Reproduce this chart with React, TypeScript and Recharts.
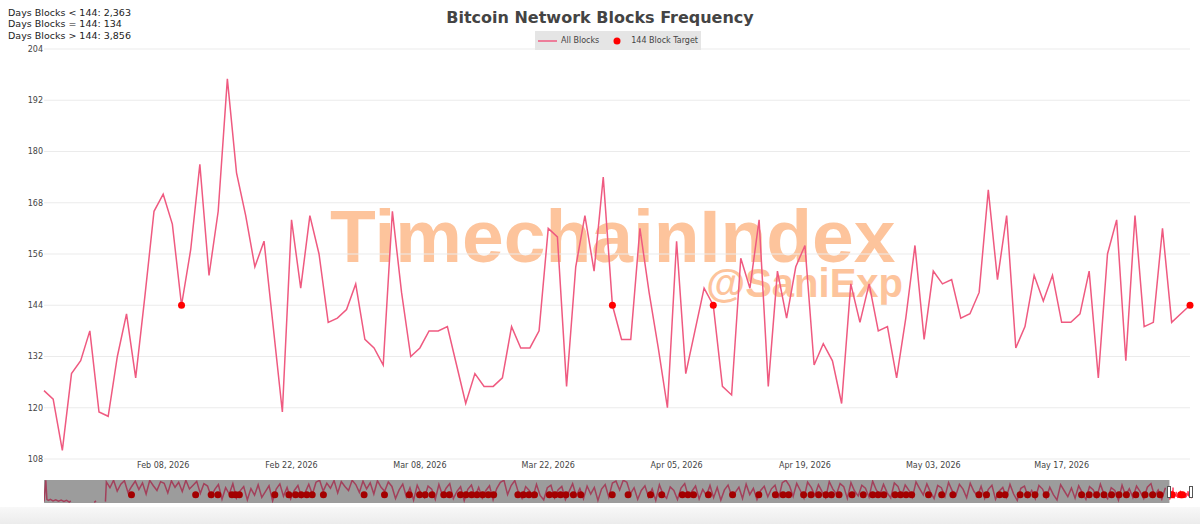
import {
  LineChart,
  ComposedChart,
  Line,
  Scatter,
  XAxis,
  YAxis,
  CartesianGrid,
  ReferenceArea,
} from 'recharts'

// ---- main window (daily block counts) ----
const START_DATE = '2026-01-26'
const TARGET = 144

const blocksPerDay = [
  124, 122, 110, 128, 131, 138, 119, 118, 132, 142,
  127, 146, 166, 170, 163, 144, 157, 177, 151, 166,
  197, 175, 165, 153, 159, 139, 119, 164, 148, 165,
  156, 140, 141, 143, 149, 136, 134, 130, 166, 147,
  132, 134, 138, 138, 139, 130, 121, 128, 125, 125,
  127, 139, 134, 134, 138, 162, 160, 125, 153, 165,
  152, 174, 144, 136, 136, 162, 147, 134, 120, 159,
  128, 138, 148, 144, 125, 123, 155, 148, 164, 125,
  152, 141, 153, 158, 130, 135, 131, 121, 149, 140,
  149, 138, 139, 127, 141, 158, 136, 152, 149, 150,
  141, 142, 147, 171, 150, 165, 134, 139, 151, 145,
  151, 140, 140, 142, 152, 127, 156, 164, 131, 165,
  139, 140, 162, 140, 142, 144,
]

const yTicks = [108, 120, 132, 144, 156, 168, 180, 192, 204]
const xTickDates = [
  '2026-02-08', '2026-02-22', '2026-03-08', '2026-03-22',
  '2026-04-05', '2026-04-19', '2026-05-03', '2026-05-17',
]

const statLabels = [
  'Days Blocks < 144: 2,363',
  'Days Blocks = 144: 134',
  'Days Blocks > 144: 3,856',
]

// ---- range slider overview (rough read of the tiny strip) ----
const TOTAL_DAYS = 6353
const earlyDays = [0, 10, 16, 25, 35, 50, 65, 80, 95, 110, 125, 140, 148]
const earlyBlocks = [95, 250, 110, 104, 112, 100, 108, 98, 106, 96, 104, 92, 100]
const blipDays = [278, 288]
const blipBlocks = [90, 100]
const HIST_START = 345
const HIST_STEP = 20
const historyBlocks = [
  // 2nd..3rd year, wide swings
  238, 196, 250, 172, 221, 247, 160, 205, 244, 183, 231, 150, 249, 210, 176, 240, 228, 158, 246, 199, 235, 168, 250, 187, 214, 242, 155, 226,
  208, 131, 184, 219, 112, 196, 150, 225, 120, 173, 204, 108, 190, 142, 217, 126, 168, 210, 100, 186, 224, 134, 198, 115, 176, 212, 128, 160, 221,
  148, 236, 250, 171, 229, 192, 248, 158, 240, 205, 176, 250, 219, 162, 244, 188, 232, 150, 247, 199, 170, 238,
  205, 118, 180, 222, 130, 196, 106, 214, 158, 124, 208, 186, 112, 219, 140, 192, 226, 117, 170, 203, 102, 184, 215, 133, 198, 121, 176, 210, 108, 190,
  235, 250, 146, 212, 248,
  162, 118, 204, 176, 126, 220, 140, 108, 196, 214, 122, 182, 205, 110, 168, 225, 136, 190, 116, 208, 150, 198, 104, 186, 219, 128, 230,
  244, 180, 250, 236, 152,
  196, 112, 176, 210, 128, 188, 104, 218, 150, 120, 202, 176, 110, 194, 226, 132, 170, 208, 115, 184, 140, 212, 124, 198, 106, 180, 215, 136, 162, 200, 118, 222, 146, 192, 110, 176, 206, 130, 188, 214, 120, 232, 250,
  210, 132, 228, 176, 120, 236, 198, 140, 218, 168, 124, 240, 186, 150, 226, 204, 118, 232, 172, 136, 214, 192, 128, 244, 180, 146, 220, 160, 122, 230, 206, 134, 216, 178, 126, 238, 190, 144, 224, 164, 118, 212, 196, 132, 234, 174, 140, 220, 186, 124, 228, 170, 136,
  206, 118, 184, 214, 112, 170, 198, 126, 220, 150, 104, 192, 208, 130, 176, 116, 212, 186, 122, 200, 146, 108, 218, 174, 132, 194, 120, 210, 160, 112, 204, 182, 128, 222, 150, 116, 196, 176, 106, 214, 140, 188, 124, 208, 168, 118, 200, 226, 134, 180, 114, 196,
]
const historyTargetDays = [
  484, 839, 925, 962, 1040, 1060, 1081, 1277, 1355, 1392, 1423, 1454, 1484, 1546,
  1771, 1884, 2021, 2078, 2109, 2147, 2212, 2243, 2304, 2335, 2366, 2396, 2427,
  2458, 2488, 2622, 2652, 2683, 2714, 2796, 2827, 2858, 2888, 2929, 2970, 3144,
  3232, 3356, 3418, 3532, 3563, 3594, 3676, 3810, 3955, 4047, 4089, 4120, 4203,
  4244, 4286, 4326, 4357, 4399, 4471, 4533, 4585, 4615, 4647, 4709, 4739, 4770,
  4801, 4894, 4967, 5029, 5173, 5215, 5287, 5318, 5401, 5442, 5483, 5545, 5741,
  5783, 5824, 5865, 5907, 5948, 5989, 6041, 6092, 6134, 6175,
]

const FONT = '"DejaVu Sans", Verdana, sans-serif'
const LINE_COLOR = '#ef5a80'
const DOT_COLOR = '#ff0000'
const MONTHS = ['Jan', 'Feb', 'Mar', 'Apr', 'May', 'Jun', 'Jul', 'Aug', 'Sep', 'Oct', 'Nov', 'Dec']
const DAY_MS = 86400000

const startMs = Date.parse(START_DATE + 'T00:00:00Z')
const mainData = blocksPerDay.map((v, i) => ({
  t: startMs + i * DAY_MS,
  blocks: v,
  target: v === TARGET ? v : null,
}))
const xTicks = xTickDates.map(d => Date.parse(d + 'T00:00:00Z'))

const fmtDate = (t: number) => {
  const d = new Date(t)
  return `${MONTHS[d.getUTCMonth()]} ${String(d.getUTCDate()).padStart(2, '0')}, ${d.getUTCFullYear()}`
}

const recentStart = TOTAL_DAYS - blocksPerDay.length
const histLine = [
  ...earlyDays.map((d, i) => ({ day: d, v: earlyBlocks[i] as number | null })),
  { day: 200, v: null },
  ...blipDays.map((d, i) => ({ day: d, v: blipBlocks[i] as number | null })),
  { day: 320, v: null },
  { day: 340, v: 95 },
  ...historyBlocks.map((v, k) => ({ day: HIST_START + k * HIST_STEP, v: v as number | null })),
]
const recentLine = blocksPerDay.map((v, i) => ({ day: recentStart + i, v }))
const histTargets = historyTargetDays.map(d => ({ day: d, v: TARGET }))
const recentTargets = recentLine.filter(p => p.v === TARGET)

function LegendBox() {
  return (
    <div
      style={{
        position: 'absolute',
        left: 535,
        top: 31,
        display: 'flex',
        alignItems: 'center',
        background: '#e5e5e5',
        width: 166,
        height: 19,
        paddingLeft: 3,
        boxSizing: 'border-box',
        fontFamily: FONT,
        fontSize: 8,
        color: '#444',
        whiteSpace: 'nowrap',
      }}
    >
      <svg width={19} height={6}>
        <line x1={0} y1={3} x2={19} y2={3} stroke={LINE_COLOR} strokeWidth={1.5} />
      </svg>
      <span style={{ marginLeft: 4 }}>All Blocks</span>
      <svg width={8} height={8} style={{ marginLeft: 14 }}>
        <circle cx={4} cy={4} r={3.5} fill={DOT_COLOR} />
      </svg>
      <span style={{ marginLeft: 10 }}>144 Block Target</span>
    </div>
  )
}

export default function App() {
  return (
    <div style={{ position: 'absolute', left: 0, top: 0, width: 1200, height: 524, background: '#fff', overflow: 'hidden' }}>
      {/* watermark behind the chart */}
      <svg width={1200} height={524} style={{ position: 'absolute', left: 0, top: 0 }}>
        <text x={330} y={262} fontFamily='"Liberation Sans", Arial, sans-serif' fontWeight="bold" fontSize={75} fill="#fdc49c">
          TimechainIndex
        </text>
        <text x={903} y={297} textAnchor="end" fontFamily='"Liberation Sans", Arial, sans-serif' fontWeight="bold" fontSize={40} fill="#fdc49c">
          @SaniExp
        </text>
      </svg>

      <div style={{ position: 'absolute', left: 0, top: 0 }}>
        <LineChart width={1200} height={524} data={mainData} margin={{ top: 49, right: 10, bottom: 45, left: 0 }}>
          <CartesianGrid vertical={false} stroke="#ebebeb" />
          <XAxis
            dataKey="t"
            type="number"
            domain={[mainData[0].t, mainData[mainData.length - 1].t]}
            ticks={xTicks}
            tickFormatter={fmtDate}
            interval={0}
            axisLine={false}
            tickLine={false}
            tickSize={0}
            tickMargin={3}
            height={20}
            tick={{ fontSize: 8, fill: '#444', fontFamily: FONT }}
          />
          <YAxis
            domain={[108, 204]}
            ticks={yTicks}
            interval={0}
            width={44}
            axisLine={false}
            tickLine={false}
            tickSize={0}
            tickMargin={1}
            tick={{ fontSize: 8, fill: '#444', fontFamily: FONT }}
          />
          <Line type="linear" dataKey="blocks" name="All Blocks" stroke={LINE_COLOR} strokeWidth={1.5} dot={false} isAnimationActive={false} />
          <Line
            type="linear"
            dataKey="target"
            name="144 Block Target"
            stroke="none"
            dot={{ r: 3.5, fill: DOT_COLOR, stroke: 'none' }}
            activeDot={false}
            isAnimationActive={false}
          />
        </LineChart>
      </div>

      <LegendBox />

      {/* title and stats */}
      <div
        style={{
          position: 'absolute',
          left: 0,
          top: 10,
          width: 1200,
          textAlign: 'center',
          fontFamily: FONT,
          fontWeight: 'bold',
          fontSize: 16,
          lineHeight: '16px',
          color: '#444',
        }}
      >
        Bitcoin Network Blocks Frequency
      </div>
      <div style={{ position: 'absolute', left: 8, top: 6.6, fontFamily: FONT, fontSize: 9.5, lineHeight: '11.67px', color: '#222', whiteSpace: 'nowrap' }}>
        {statLabels.map(s => (
          <div key={s}>{s}</div>
        ))}
      </div>

      {/* range slider */}
      <div style={{ position: 'absolute', left: 44, top: 480 }}>
        <ComposedChart width={1148} height={23} margin={{ top: 0, right: 0, bottom: 0, left: 0 }}>
          <XAxis dataKey="day" type="number" domain={[0, TOTAL_DAYS - 1]} hide />
          <YAxis dataKey="v" domain={[85, 252]} allowDataOverflow hide />
          <ReferenceArea x1={0} x2={recentStart} y1={85} y2={252} fill="#9c9c9c" fillOpacity={1} stroke="none" />
          <Line data={histLine} dataKey="v" type="linear" stroke="#a3405b" strokeWidth={1.5} dot={false} connectNulls={false} isAnimationActive={false} />
          <Line data={recentLine} dataKey="v" type="linear" stroke="#ff3d5e" strokeWidth={1} dot={false} isAnimationActive={false} />
          <Scatter
            data={histTargets}
            dataKey="v"
            isAnimationActive={false}
            shape={(p: any) => <circle cx={p.cx} cy={p.cy} r={3.5} fill="#a30000" />}
          />
          <Scatter
            data={recentTargets}
            dataKey="v"
            isAnimationActive={false}
            shape={(p: any) => <circle cx={p.cx} cy={p.cy} r={3.5} fill={DOT_COLOR} />}
          />
        </ComposedChart>
      </div>
      <div style={{ position: 'absolute', left: 1167, top: 486, width: 2, height: 10, background: '#fff', border: '1px solid #555' }} />
      <div style={{ position: 'absolute', left: 1189, top: 486, width: 2, height: 10, background: '#fff', border: '1px solid #555' }} />
      <div style={{ position: 'absolute', left: 0, top: 507, width: 1200, height: 17, background: 'linear-gradient(#f8f8f8, #ececec)' }} />
    </div>
  )
}
